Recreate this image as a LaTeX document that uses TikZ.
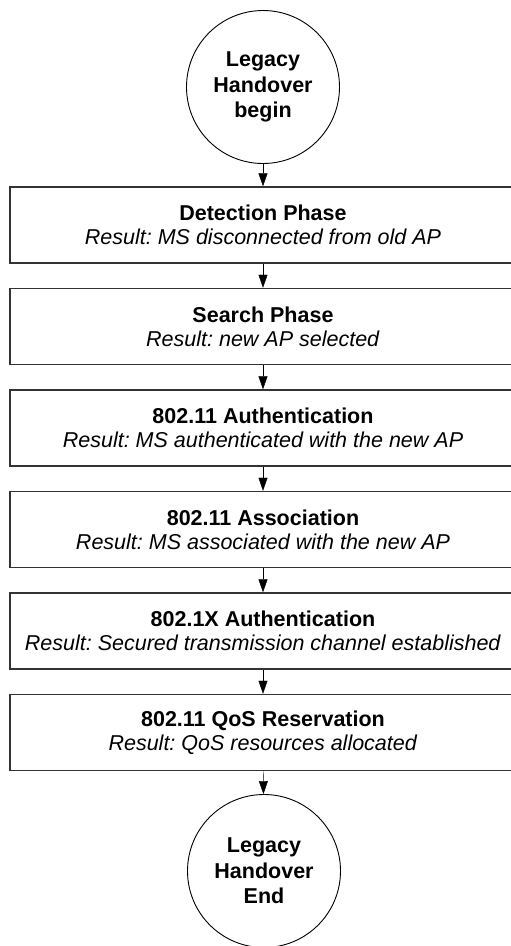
\documentclass[tikz,border=0pt]{standalone}
\usepackage{fontspec}
\setmainfont{Liberation Sans}
\usepackage{tikz}
\usetikzlibrary{arrows.meta}

\begin{document}
\frenchspacing
\begin{tikzpicture}[x=1pt,y=-1pt,>={Triangle[width=9pt,length=13pt]},
	term/.style = {draw,circle,line width=0.9pt,minimum size=153pt,inner sep=0pt,align=center,font=\fontsize{21.5}{25.5}\selectfont\bfseries},
	phase/.style = {draw=black!80,line width=1.5pt,minimum width=506pt,minimum height=76pt,inner sep=0pt,align=center,font=\fontsize{21.5}{24}\selectfont}
	]
	\useasboundingbox (0,0) rectangle (511,946);
	%INIZIO
	\node[term] (@begin) at (263,87) {Legacy\\Handover\\begin};
	%FASI
	\node[phase] (@det) at (263,225) {\textbf{Detection Phase}\\\textit{Result: MS disconnected from old AP}};
	\node[phase] (@search) at (263,326.5) {\textbf{Search Phase}\\\textit{Result: new AP selected}};
	\node[phase] (@auth) at (263,428) {\textbf{802.11 Authentication}\\\textit{Result: MS authenticated with the new AP}};
	\node[phase] (@assoc) at (263,529.5) {\textbf{802.11 Association}\\\textit{Result: MS associated with the new AP}};
	\node[phase] (@dotx) at (263,631) {\textbf{802.1X Authentication}\\\textit{Result: Secured transmission channel established}};
	\node[phase] (@qos) at (263,732.5) {\textbf{802.11 QoS Reservation}\\\textit{Result: QoS resources allocated}};
	%FINE
	\node[term] (@end) at (264,871) {Legacy\\Handover\\End};
	%FRECCE
	\draw[->] (@begin) -- (@det);
	\draw[->] (@det) -- (@search);
	\draw[->] (@search) -- (@auth);
	\draw[->] (@auth) -- (@assoc);
	\draw[->] (@assoc) -- (@dotx);
	\draw[->] (@dotx) -- (@qos);
	\draw[->] (@qos) -- (@end);
\end{tikzpicture}
\end{document}
